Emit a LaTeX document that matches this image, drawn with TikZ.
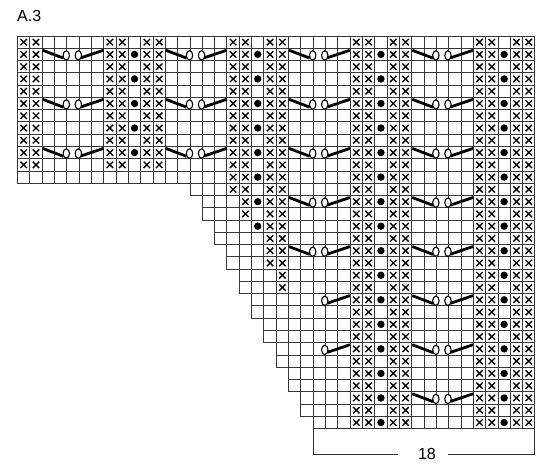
\documentclass[tikz,border=0pt]{standalone}
\usepackage{fontspec}
\setmainfont{Liberation Sans}
\begin{document}
\begin{tikzpicture}[x=1pt,y=1pt,
  gridline/.style={draw=black!78,line width=0.9pt},
  xmark/.style={draw=black,line width=1.35pt},
  dotmark/.style={fill=black},
  cabline/.style={draw=black,line width=2.8pt},
  ovalmark/.style={draw=black,fill=white,line width=1.1pt},
  brack/.style={draw=black!80,line width=1pt},
  xm/.pic={\draw[xmark] (0.24,0.24)--(0.76,0.76) (0.76,0.24)--(0.24,0.76);},
  dm/.pic={\fill[dotmark] (0.5,0.5) circle (3.7pt);},
  cabfull/.pic={
    \draw[cabline] (0.04,0.16) -- (1.72,0.80);
    \draw[cabline] (3.15,0.78) -- (4.98,0.16);
    \draw[ovalmark] (1.96,0.58) ellipse (0.26 and 0.38);
    \draw[ovalmark] (2.94,0.58) ellipse (0.26 and 0.38);},
  cabhalf/.pic={
    \draw[cabline] (3.15,0.78) -- (4.98,0.16);
    \draw[ovalmark] (2.94,0.58) ellipse (0.26 and 0.38);}
]
\useasboundingbox (0,0) rectangle (550,-474);
\fill[white] (0,0) rectangle (550,-474);
\node[anchor=base west,inner sep=0pt,font=\fontsize{16}{19}\selectfont] (title) at (17,-21) {A.3};
\begin{scope}[shift={(17.5pt,-36pt)},x=12.32pt,y=-12.27pt]
  % grid
  \foreach \r in {0,...,31}{
    \pgfmathtruncatemacro\s{ifthenelse(\r<12,0,14+floor((\r-11)/2))}
    \foreach \c in {\s,...,41}{\draw[gridline] (\c,\r) rectangle ++(1,1);}
  }
  % left columns
  \foreach \r in {0,...,10}{
    \foreach \c in {0,1,7,8,10,11}{\pic at (\c,\r) {xm};}
    \pgfmathtruncatemacro\od{mod(\r,2)}
    \ifnum\od=1 \pic at (9,\r) {dm};\fi
  }
  % column group 17-21
  \foreach \r in {0,...,12}{
    \foreach \c in {17,18,20,21}{\pic at (\c,\r) {xm};}
    \pgfmathtruncatemacro\od{mod(\r,2)}
    \ifnum\od=1 \pic at (19,\r) {dm};\fi
  }
  \foreach \c in {18,20,21}{\pic at (\c,13) {xm}; \pic at (\c,14) {xm};}
  \pic at (19,13) {dm};
  \pic at (19,15) {dm};
  \foreach \r in {15,16,17,18}{\pic at (20,\r) {xm}; \pic at (21,\r) {xm};}
  \pic at (21,19) {xm}; \pic at (21,20) {xm};
  % right column groups
  \foreach \r in {0,...,31}{
    \foreach \c in {27,28,30,31,37,38,40,41}{\pic at (\c,\r) {xm};}
    \pgfmathtruncatemacro\od{mod(\r,2)}
    \ifnum\od=1 \pic at (29,\r) {dm}; \pic at (39,\r) {dm};\fi
  }
  % cables
  \foreach \r in {1,5,9}{\pic at (2,\r) {cabfull}; \pic at (12,\r) {cabfull};}
  \foreach \r in {1,5,9,13,17}{\pic at (22,\r) {cabfull};}
  \foreach \r in {21,25}{\pic at (22,\r) {cabhalf};}
  \foreach \r in {1,5,9,13,17,21,25,29}{\pic at (32,\r) {cabfull};}
\end{scope}
% bracket
\coordinate (bl) at (313.2,-428.3);
\coordinate (br) at (534.9,-428.3);
\node[inner sep=0pt,font=\fontsize{16}{19}\selectfont] (n18) at (427,-454) {18};
\coordinate (gl) at (398,-454);
\coordinate (gr) at (448,-454);
\draw[brack] (bl) |- (gl);
\draw[brack] (br) |- (gr);
\end{tikzpicture}
\end{document}
